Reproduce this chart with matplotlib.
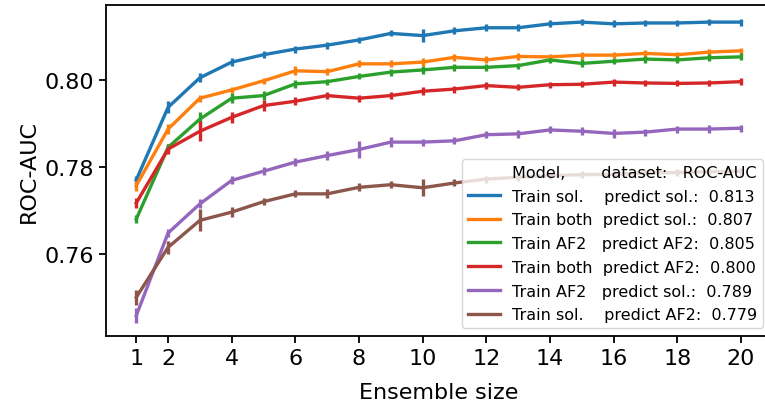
import numpy as np
import matplotlib
matplotlib.use("Agg")
import matplotlib.pyplot as plt

# Ensemble sizes
sizes = np.arange(1, 21)

# Mean ROC-AUC per ensemble size
blue = [0.7770, 0.7937, 0.8005, 0.8041, 0.8058, 0.8071, 0.8080, 0.8092, 0.8107, 0.8102,
        0.8113, 0.8120, 0.8120, 0.8129, 0.8133, 0.8129, 0.8131, 0.8131, 0.8133, 0.8133]
orange = [0.7757, 0.7887, 0.7958, 0.7977, 0.7998, 0.8021, 0.8019, 0.8037, 0.8037, 0.8041,
          0.8052, 0.8046, 0.8054, 0.8053, 0.8057, 0.8057, 0.8061, 0.8058, 0.8064, 0.8067]
green = [0.7680, 0.7845, 0.7910, 0.7958, 0.7964, 0.7991, 0.7996, 0.8008, 0.8018, 0.8023,
         0.8029, 0.8029, 0.8033, 0.8046, 0.8038, 0.8043, 0.8048, 0.8046, 0.8051, 0.8053]
red = [0.7717, 0.7841, 0.7882, 0.7914, 0.7941, 0.7951, 0.7964, 0.7958, 0.7964, 0.7974,
       0.7979, 0.7987, 0.7983, 0.7989, 0.7990, 0.7995, 0.7993, 0.7992, 0.7993, 0.7996]
purple = [0.7458, 0.7648, 0.7715, 0.7769, 0.7790, 0.7811, 0.7826, 0.7840, 0.7857, 0.7857,
          0.7860, 0.7874, 0.7876, 0.7885, 0.7882, 0.7877, 0.7880, 0.7887, 0.7887, 0.7889]
brown = [0.7500, 0.7615, 0.7677, 0.7696, 0.7720, 0.7738, 0.7738, 0.7753, 0.7759, 0.7752,
         0.7763, 0.7772, 0.7776, 0.7780, 0.7782, 0.7783, 0.7786, 0.7787, 0.7789, 0.7790]

# Error bar half-widths (std)
blue_err = [0.0010, 0.0014, 0.0010, 0.0009, 0.0008, 0.0008, 0.0008, 0.0007, 0.0007, 0.0014,
            0.0008, 0.0008, 0.0008, 0.0008, 0.0007, 0.0008, 0.0007, 0.0007, 0.0007, 0.0008]
orange_err = [0.0012, 0.0012, 0.0008, 0.0007, 0.0007, 0.0010, 0.0008, 0.0008, 0.0008, 0.0009,
              0.0008, 0.0008, 0.0008, 0.0007, 0.0008, 0.0007, 0.0008, 0.0007, 0.0008, 0.0007]
green_err = [0.0010, 0.0008, 0.0016, 0.0012, 0.0010, 0.0009, 0.0007, 0.0007, 0.0008, 0.0009,
             0.0008, 0.0008, 0.0007, 0.0008, 0.0009, 0.0007, 0.0008, 0.0008, 0.0008, 0.0008]
red_err = [0.0012, 0.0012, 0.0023, 0.0013, 0.0012, 0.0009, 0.0008, 0.0008, 0.0008, 0.0009,
           0.0008, 0.0008, 0.0007, 0.0007, 0.0007, 0.0008, 0.0007, 0.0007, 0.0007, 0.0008]
purple_err = [0.0018, 0.0010, 0.0010, 0.0009, 0.0009, 0.0009, 0.0010, 0.0019, 0.0012, 0.0008,
              0.0008, 0.0008, 0.0009, 0.0008, 0.0009, 0.0010, 0.0008, 0.0008, 0.0010, 0.0008]
brown_err = [0.0017, 0.0015, 0.0025, 0.0011, 0.0008, 0.0008, 0.0010, 0.0009, 0.0008, 0.0019,
             0.0008, 0.0008, 0.0008, 0.0008, 0.0008, 0.0008, 0.0008, 0.0008, 0.0008, 0.0008]

labels = [
    "Train sol.    predict sol.:  0.813",
    "Train both  predict sol.:  0.807",
    "Train AF2   predict AF2:  0.805",
    "Train both  predict AF2:  0.800",
    "Train AF2   predict sol.:  0.789",
    "Train sol.    predict AF2:  0.779",
]
header = "Model,       dataset:   ROC-AUC"

series = [blue, orange, green, red, purple, brown]
errors = [blue_err, orange_err, green_err, red_err, purple_err, brown_err]
colors = ["#1f77b4", "#ff7f0e", "#2ca02c", "#d62728", "#9467bd", "#8c564b"]

fig = plt.figure(figsize=(7.65, 4.1), dpi=100)
ax = fig.add_axes([0.1386, 0.178, 0.8694, 0.807])

handles = []
h0, = ax.plot([], [], color="none", label=header)
handles.append(h0)
for y, e, c, lab in zip(series, errors, colors, labels):
    ax.errorbar(sizes, y, yerr=e, color=c, lw=2.4, elinewidth=2.4, capsize=0)
    h, = ax.plot([], [], color=c, lw=2.4, label=lab)
    handles.append(h)

ax.set_xticks([1, 2, 4, 6, 8, 10, 12, 14, 16, 18, 20])
ax.set_yticks([0.76, 0.78, 0.80])
ax.set_ylim(0.7411, 0.8172)
ax.tick_params(labelsize=16, length=5, width=1.3)
for s in ax.spines.values():
    s.set_linewidth(1.3)
ax.set_xlabel("Ensemble size", fontsize=16, labelpad=10)
ax.set_ylabel("ROC-AUC", fontsize=16)
ax.legend(handles=handles, loc="lower right", fontsize=11.5, handlelength=2.0,
          borderpad=0.35, labelspacing=0.55, handletextpad=0.8)

fig.savefig("out.png", dpi=100)
